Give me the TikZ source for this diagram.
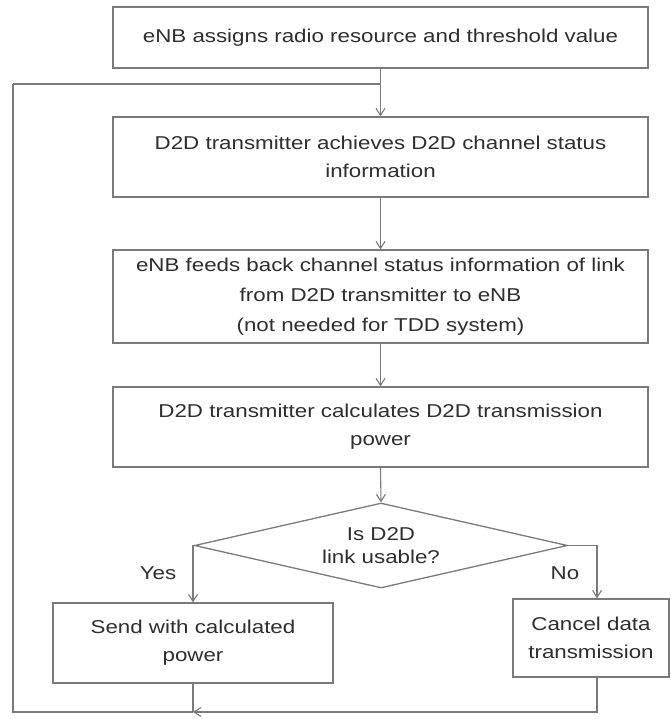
\documentclass[tikz,border=0pt]{standalone}
\usepackage{fontspec}
\setmainfont{Liberation Sans}[FakeStretch=1.2]
\usetikzlibrary{arrows.meta,shapes.geometric,shadows,calc}
\definecolor{ln}{HTML}{7A7A7A}
\definecolor{tx}{HTML}{2E2E2E}
\begin{document}
\begin{tikzpicture}[x=1pt,y=-1pt,
  box/.style={draw=ln, line width=1.3pt, fill=white, rectangle, inner sep=0pt, align=center,
    text=tx, font=\fontsize{18.6}{28}\selectfont,
    drop shadow={shadow xshift=-1.2pt, shadow yshift=-1.4pt, fill=ln, opacity=1}},
  dia/.style={draw=ln, line width=1.3pt, diamond, aspect=4.4, inner sep=0pt, align=center,
    text=tx, font=\fontsize{18.6}{23}\selectfont},
  lbl/.style={text=tx, font=\fontsize{18.6}{22}\selectfont},
  con/.style={draw=ln, line width=1.1pt},
  arr/.style={con, -{Straight Barb[length=7pt,width=9pt]}}]
\useasboundingbox (0,0) rectangle (670,719);

\node[box, minimum width=535pt, minimum height=61pt] (b1) at (380.5,37.5)
  {eNB assigns radio resource and threshold value};
\node[box, minimum width=535pt, minimum height=80pt] (b2) at (380.5,157)
  {D2D transmitter achieves D2D channel status\\information};
\node[box, minimum width=535pt, minimum height=93pt, font=\fontsize{18.6}{30}\selectfont] (b3) at (380.5,296.5)
  {eNB feeds back channel status information of link\\from D2D transmitter to eNB\\(not needed for TDD system)};
\node[box, minimum width=535pt, minimum height=80pt] (b4) at (380.5,427)
  {D2D transmitter calculates D2D transmission\\power};
\node[dia, minimum width=373pt, minimum height=85pt] (d) at (381,545.5)
  {Is D2D\\link usable?};
\node[box, minimum width=280pt, minimum height=80pt] (s) at (193,643)
  {Send with calculated\\power};
\node[box, minimum width=156pt, minimum height=78pt] (c) at (591,638)
  {Cancel data\\transmission};

\node[lbl] (yes) at (158,573) {Yes};
\node[lbl] (no) at (565,573) {No};

\coordinate (j) at (193,712);
\coordinate (bl) at (13,712);
\coordinate (tl) at (13,84);

\draw[arr] (b1.south) -- (b2.north);
\draw[con] (tl) -- (tl -| b1.south);
\draw[arr] (b2.south) -- (b3.north);
\draw[arr] (b3.south) -- (b4.north);
\draw[arr] (b4.south) -- (d.north);
\draw[arr] (d.west) -| (s.north);
\draw[arr] (d.east) -| ($(c.north)+(6,0)$);
\draw[con] (s.south) -- (j);
\draw[arr] ($(c.south)+(6,0)$) |- (j);
\draw[con] (j) -- (bl) -- (tl);
\end{tikzpicture}
\end{document}
